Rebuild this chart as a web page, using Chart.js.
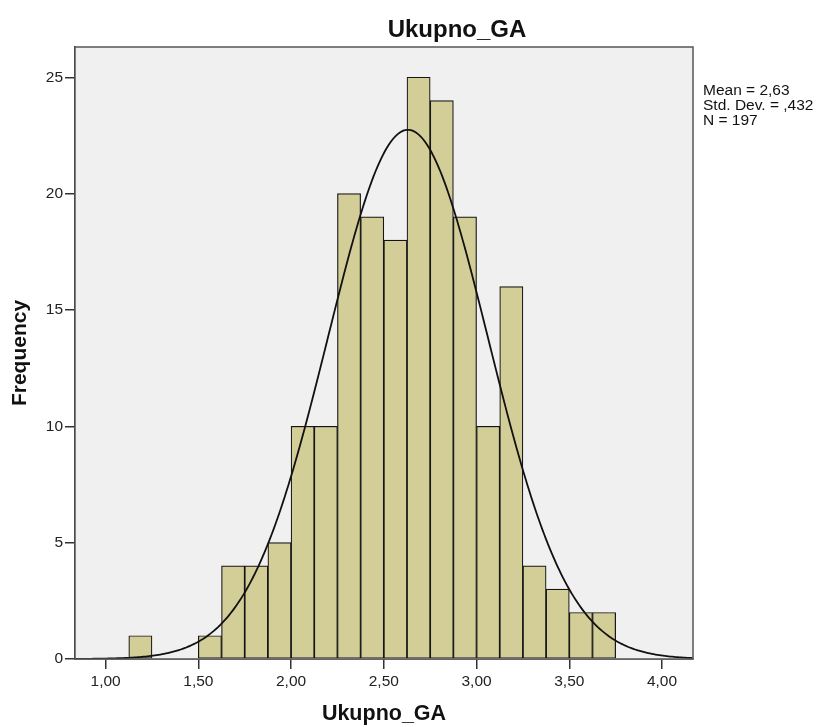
<!DOCTYPE html>
<html>
<head>
<meta charset="utf-8">
<title>Ukupno_GA</title>
<script src="https://cdn.jsdelivr.net/npm/chart.js@4/dist/chart.umd.min.js"></script>
<style>
  html, body { margin: 0; padding: 0; background: #fff; }
  #wrap { position: absolute; left: 0; top: 0; width: 821px; height: 727px; }
</style>
</head>
<body>
<div id="wrap"><canvas id="hist" width="821" height="727"></canvas></div>
<script>
/* histogram data: lower edge of each bin and its frequency */
const binWidth = 0.125;
const binStarts = [1.125, 1.5, 1.625, 1.75, 1.875, 2.0, 2.125, 2.25, 2.375, 2.5,
                   2.625, 2.75, 2.875, 3.0, 3.125, 3.25, 3.375, 3.5, 3.625];
const frequencies = [1, 1, 4, 4, 5, 10, 10, 20, 19, 18,
                     25, 24, 19, 10, 16, 4, 3, 2, 2];

/* summary shown at the right */
const mean = 2.63;
const stdDev = 0.432;
const n = 197;
const statLines = ['Mean = 2,63', 'Std. Dev. = ,432', 'N = 197'];

/* axes */
const xTicks = [1.0, 1.5, 2.0, 2.5, 3.0, 3.5, 4.0];
const yTicks = [0, 5, 10, 15, 20, 25];
const xRange = [0.835, 4.167];
const yRange = [0, 26.3];

const barPoints = binStarts.map((s, i) => ({ x: s + binWidth / 2, y: frequencies[i] }));

// normal curve scaled to counts per bin
const curvePoints = [];
for (let x = xRange[0]; x <= xRange[1] + 1e-9; x += 0.01) {
  const z = (x - mean) / stdDev;
  curvePoints.push({ x: x, y: n * binWidth * Math.exp(-0.5 * z * z) / (stdDev * Math.sqrt(2 * Math.PI)) });
}

const fmt = v => v.toFixed(2).replace('.', ',');

const frame = {
  id: 'frame',
  beforeDatasetsDraw(chart) {
    const { ctx, chartArea: a } = chart;
    ctx.save();
    ctx.fillStyle = '#f0f0f0';
    ctx.fillRect(a.left, a.top, a.right - a.left, a.bottom - a.top);
    ctx.restore();
  },
  afterDraw(chart) {
    const { ctx, chartArea: a } = chart;
    ctx.save();
    ctx.strokeStyle = '#555';
    ctx.lineWidth = 1.5;
    ctx.strokeRect(a.left, a.top, a.right - a.left, a.bottom - a.top);

    ctx.fillStyle = '#111';
    ctx.font = 'bold 24px "Liberation Sans", Arial, sans-serif';
    ctx.textAlign = 'center';
    ctx.textBaseline = 'alphabetic';
    ctx.fillText('Ukupno_GA', 457, 37);

    ctx.font = '15.5px "Liberation Sans", Arial, sans-serif';
    ctx.textAlign = 'left';
    statLines.forEach((t, i) => ctx.fillText(t, 703, 95 + i * 15));
    ctx.restore();
  }
};

new Chart(document.getElementById('hist'), {
  type: 'bar',
  data: {
    datasets: [{
      type: 'line',
      data: curvePoints,
      borderColor: '#111',
      borderWidth: 1.8,
      pointRadius: 0,
      tension: 0,
      order: 0
    }, {
      type: 'bar',
      data: barPoints,
      backgroundColor: '#d3ce97',
      borderColor: '#151515',
      borderWidth: 1.2,
      borderSkipped: false,
      barPercentage: 1,
      categoryPercentage: 1,
      order: 1
    }]
  },
  options: {
    responsive: false,
    animation: false,
    layout: { padding: { top: 47, right: 128, left: 0, bottom: 0 } },
    plugins: { legend: { display: false }, tooltip: { enabled: false } },
    scales: {
      x: {
        type: 'linear',
        offset: false,
        min: xRange[0],
        max: xRange[1],
        afterBuildTicks: s => { s.ticks = xTicks.map(v => ({ value: v })); },
        afterFit: s => { s.height = 68; },
        grid: { offset: false, drawOnChartArea: false, tickLength: 10, color: '#333', lineWidth: 1.5 },
        border: { display: true, color: '#333', width: 1.5 },
        ticks: {
          callback: v => fmt(v),
          color: '#222',
          padding: 3,
          maxRotation: 0,
          font: { size: 15.5, family: '"Liberation Sans", Arial, sans-serif' }
        },
        title: {
          display: true,
          text: 'Ukupno_GA',
          color: '#111',
          padding: { top: 0, bottom: 0 },
          font: { size: 21.5, weight: 'bold', family: '"Liberation Sans", Arial, sans-serif' }
        }
      },
      y: {
        min: yRange[0],
        max: yRange[1],
        afterBuildTicks: s => { s.ticks = yTicks.map(v => ({ value: v })); },
        afterFit: s => { s.width = 75; },
        grid: { drawOnChartArea: false, tickLength: 10, color: '#333', lineWidth: 1.5 },
        border: { display: true, color: '#333', width: 1.5 },
        ticks: {
          color: '#222',
          padding: 2,
          font: { size: 15.5, family: '"Liberation Sans", Arial, sans-serif' }
        },
        title: {
          display: true,
          text: 'Frequency',
          color: '#111',
          padding: { top: 8, bottom: 0 },
          font: { size: 21, weight: 'bold', family: '"Liberation Sans", Arial, sans-serif' }
        }
      }
    }
  },
  plugins: [frame]
});
</script>
</body>
</html>
